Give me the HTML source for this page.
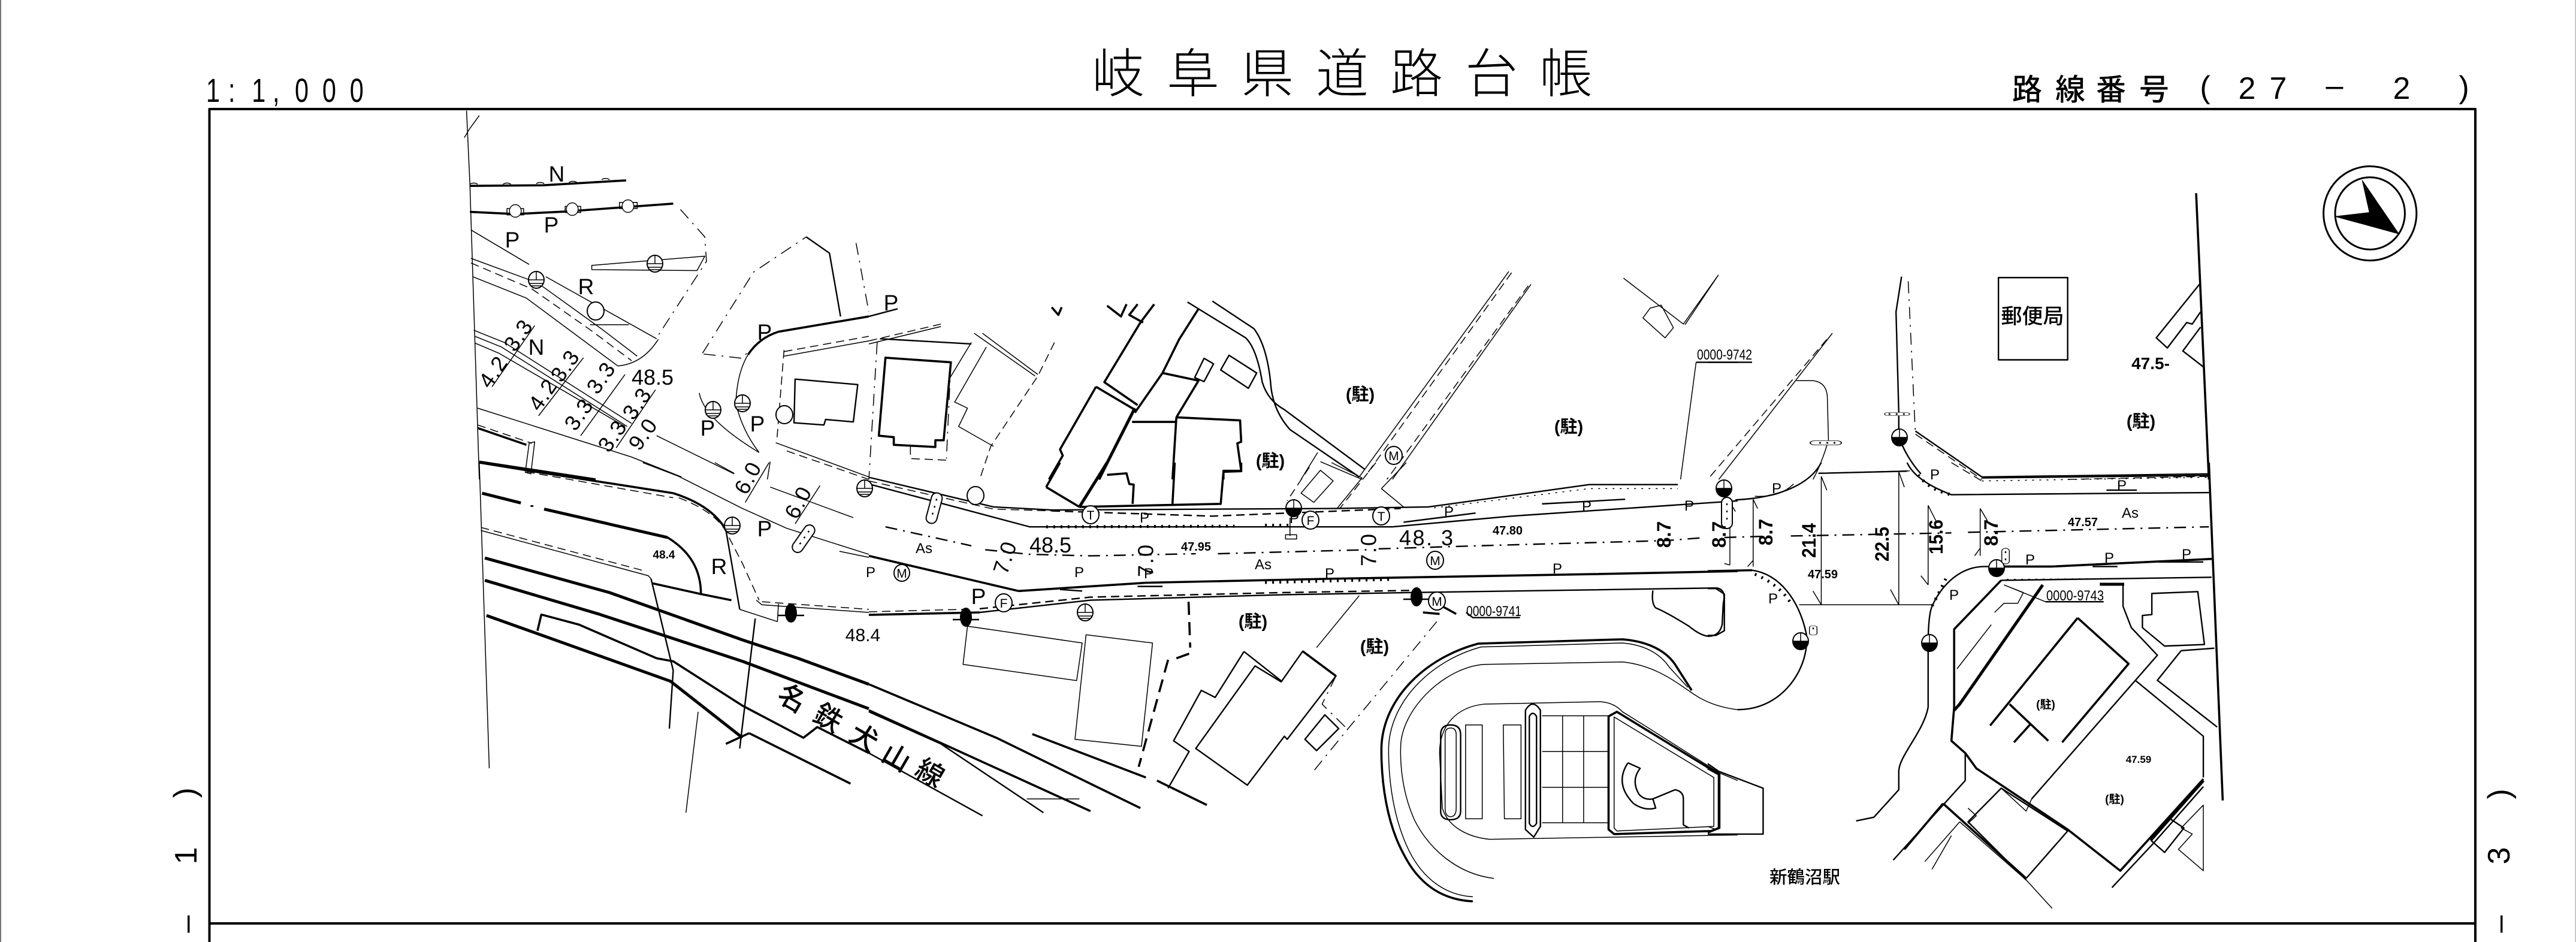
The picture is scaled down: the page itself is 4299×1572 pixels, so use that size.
<!DOCTYPE html>
<html lang="ja"><head><meta charset="utf-8"><title>岐阜県道路台帳</title>
<style>
html,body{margin:0;padding:0;background:#fff}
svg{display:block}
path,ellipse.t{vector-effect:non-scaling-stroke;fill:none;stroke:#000;stroke-linejoin:round}
.a{stroke-width:1.5}.b{stroke-width:2.4}.c{stroke-width:3.6}.d{stroke-width:5}
.da{stroke-dasharray:14 8}.db{stroke-dasharray:20 10 3 10}.dc{stroke-dasharray:3 9}.dd{stroke-dasharray:22 12}
text{font-family:"Liberation Sans","Noto Sans CJK JP",sans-serif;fill:#000;text-anchor:middle}
.p{font-size:24px}.pp{font-size:37px}.n{font-size:36px}.s{font-size:22px;font-weight:bold}.m{font-size:30px}
.k{font-size:29px;font-weight:bold}
.u{font-size:21px}
</style></head><body>
<svg xmlns="http://www.w3.org/2000/svg" width="4299" height="1572" viewBox="0 0 4299 1572">
<defs>
<g id="mh"><ellipse cx="0" cy="0" rx="13" ry="14" fill="#fff" stroke="#000" stroke-width="2"/><path class="a" d="M-13 0H13M0 -14V0"/><path d="M-13 1A13 13 0 0 0 13 1Z" style="fill:#000;stroke:#000"/></g>
<g id="mh2"><ellipse cx="0" cy="0" rx="13" ry="14" fill="#fff" stroke="#000" stroke-width="2"/><path class="a" d="M-13 0H13M0 -14V0M-11 6H11M-8 10H8"/></g>
<g id="bk"><ellipse cx="0" cy="0" rx="10" ry="16" fill="#000"/><path class="b" d="M-22 4H22"/></g>
<g id="cc"><ellipse cx="0" cy="0" rx="14" ry="15" fill="#fff" stroke="#000" stroke-width="2"/></g>
<g id="ov"><rect x="-9" y="-26" width="18" height="52" rx="9" fill="#fff" stroke="#000" stroke-width="2"/><path class="b dc" d="M0 -16V18"/></g>
</defs>
<rect width="4299" height="1572" fill="#fff"/>
<path d="M1 0V1572" style="stroke:#777;stroke-width:2"/>
<path d="M4298 0V1572" style="stroke:#bbb;stroke-width:1.5"/>
<!-- frame -->
<path d="M349.5 1572V182H4131V1572" style="stroke:#000;stroke-width:4"/>
<path d="M349.5 1541H4131" style="stroke:#000;stroke-width:4"/>

<!-- Tile A -->
<g transform="scale(.9247 .5102)">
<path class="a" d="M842 362L848 600L865 1568M865 378L848 420L838 450"/>
<path class="c" d="M848 608L980 606L1130 590"/>
<path class="a" d="M848 603a8 8 0 0 1 14 0M908 603a8 8 0 0 1 14 0M968 601a8 8 0 0 1 14 0M1027 597a8 8 0 0 1 14 0M1086 588a8 8 0 0 1 14 0"/>
<path class="c" d="M848 693L930 700L1020 692L1215 666"/>
<path class="a" d="M915 682H945V703H915ZM1020 675H1048V695H1020ZM1118 662H1150V682H1118Z"/>
<path class="a" d="M850 752L955 865M985 905L1185 1108M850 845L970 925L1085 1075L1150 1165M853 905L950 975L1115 1197Q1160 1190 1188 1110M1065 1062H1135"/>
<path class="a da" d="M850 860L960 945L1070 1085L1140 1180"/>
<path class="a db" d="M1228 685L1272 775L1275 855L1185 1105"/>
<path class="a" d="M1068 868L1272 838L1258 885L1068 882Z"/>
<path class="a db" d="M1270 1158L1340 1172L1350 1150M1268 1155L1360 890L1455 775"/>
<path class="b" d="M1455 775L1497 828L1517 1035"/>
<path class="a db" d="M1545 795L1568 1020"/>
<path class="c" d="M1568 1035L1405 1085Q1370 1105 1350 1160"/>
<path class="a" d="M1350 1160Q1330 1220 1328 1320Q1340 1410 1370 1480M1262 1285Q1270 1370 1370 1480"/>
<path class="b" d="M1435 1240L1548 1258L1540 1380L1490 1372L1487 1390L1433 1383Z"/>
<path class="a da" d="M1415 1145L1402 1440"/>
<path class="a" d="M1415 1165L1568 1115M1400 1448L1568 1560"/>
<path class="a da" d="M1415 1150L1568 1100M1420 1475L1568 1568"/>
<path class="a" d="M855 1080L910 1120L1140 1385M857 1100L905 1135L1132 1395M857 1122L900 1155L1128 1395"/>
<path class="a" d="M965 1065L888 1265M1053 1170L972 1360M1128 1225L1048 1425M1183 1275L1112 1465"/>
<path class="a" d="M862 1335L1140 1495L1230 1560M1185 1425L1325 1550M1390 1510L1385 1568"/>
<path class="a da" d="M862 1390L960 1450"/>
<path class="c" d="M862 1400L950 1455"/>
<path class="a" d="M955 1450L965 1445L958 1550L948 1545Z"/>
<path class="c" d="M865 1510L1075 1568"/>
</g>

<!-- Tile B -->
<g transform="translate(1450 0) scale(.9247 .5102)">
<path class="b" d="M0 1035L52 1010"/>
<path class="a da" d="M0 1115L130 1060"/>
<path class="a" d="M0 1125L130 1068"/>
<path class="b" d="M20 1108L185 1125"/>
<path class="c" d="M30 1170L148 1185L135 1440L120 1440L120 1462L45 1455L45 1430L18 1425Z"/>
<path class="a db" d="M15 1120L0 1568M148 1185L140 1500"/>
<path class="a da" d="M75 1460L75 1500L140 1505"/>
<path class="a" d="M205 1090L305 1225M190 1090L300 1230M212 1135L155 1315L178 1335L162 1395L225 1460M185 1120L145 1240"/>
<path class="a da" d="M335 1120L305 1230L220 1460L200 1568"/>
<path class="c" d="M430 1000L455 1035L465 995M485 995L470 1030L495 1055M330 1005L342 1030L348 1005"/>
<path class="c" d="M515 995L490 1055L425 1250L485 1325M410 1265L478 1338"/>
<path class="c" d="M595 1010L560 1110L530 1220L595 1245L555 1365"/>
<path class="c" d="M410 1265L345 1470L350 1490L325 1568"/>
<path class="d" d="M480 1335L415 1568"/>
<path class="c" d="M530 1220L480 1350"/>
<path class="c" d="M475 1380L555 1380M555 1365L670 1375L672 1445L665 1450L672 1540L640 1540L640 1568M555 1365L548 1568"/>
<path class="b" d="M575 988L680 1105Q700 1140 710 1250Q720 1310 750 1340L895 1535M620 985L695 1075Q718 1130 725 1250Q728 1340 760 1405L885 1560"/>
<path class="b" d="M605 1172L622 1190L605 1248L588 1235ZM650 1162L700 1220L685 1270L635 1210Z"/>
<path class="a" d="M1155 888L885 1560M1195 930L945 1568"/>
<path class="a da" d="M1160 892L895 1560M1190 935L935 1568"/>
<path class="a" d="M1362 910L1470 1060L1533 900L1473 1062M1430 998L1452 1072L1437 1105L1397 1040L1410 1008Z"/>
<path class="b" d="M1493 1185L1568 1185"/>
<path class="a" d="M1493 1185L1465 1568"/>
<path class="a" d="M810 1480L780 1568M815 1510L890 1568"/>
</g>

<!-- Tile C -->
<g transform="translate(2850 0) scale(.9241 .5102)">
<path class="b" d="M0 1185H80"/>
<path class="c" d="M882 632L905 1568"/>
<path class="b" d="M888 930L810 1105L830 1138L865 1055L875 1060L890 1020M890 1070L858 1148L895 1200"/>
<path class="b" d="M525 908H650V1177H525Z"/>
<path class="b" d="M350 905L340 1020L345 1350L345 1430Q360 1500 385 1550"/>
<path class="a db" d="M362 920L375 1420"/>
<path class="a da" d="M375 1420L495 1568"/>
<path class="b" d="M375 1410L495 1560L905 1550"/>
<path class="a" d="M225 1090L20 1568"/>
<path class="a da" d="M215 1110L0 1568"/>
<path class="a" d="M160 1245H190Q215 1250 216 1300L218 1440Q205 1520 190 1568M200 1548L365 1540"/>
<path class="a da" d="M650 1568L905 1558"/>
<ellipse class="t" cx="1196" cy="698" rx="84" ry="154" style="stroke-width:3"/>
<ellipse class="t" cx="1196" cy="698" rx="63" ry="118" style="stroke-width:3"/>
<path d="M1182 590L1195 695L1133 708L1248 765Z" style="fill:#000;stroke:#000;stroke-width:1"/>
</g>

<!-- Tile D -->
<g transform="translate(0 772) scale(.9247 .5102)">
<path class="a" d="M865 0L883 1000"/>
<path class="c" d="M865 0L950 25L1215 100"/>
<path class="a da" d="M950 30L1215 115"/>
<path class="c" d="M1215 100Q1285 140 1310 220"/>
<path class="b" d="M1310 220L1335 480"/>
<path class="a da" d="M1225 115Q1290 160 1310 225L1340 330L1370 450"/>
<path class="d" d="M870 100L940 132M982 152L1205 245"/>
<circle cx="960" cy="142" r="3"/>
<path class="c" d="M1205 245C1245 290 1265 350 1265 430"/>
<path class="a" d="M868 222L1170 370L1175 380"/>
<path class="a da" d="M868 212L1165 355"/>
<path class="b" d="M1175 380L1215 680L1208 870"/>
<path class="c" d="M1178 395L1265 430L1320 450"/>
<path class="d" d="M875 312L1100 425L1340 580L1440 640L1568 725"/>
<path class="d" d="M875 385L1080 495L1340 650L1568 805"/>
<path class="d" d="M878 500L1210 715L1340 900"/>
<path class="c" d="M1352 885L1535 1050M1310 920L1352 885"/>
<path class="c" d="M970 550L977 497L1045 530L1185 640L1215 650L1340 795L1450 900L1475 865L1568 950"/>
<path class="b" d="M1363 510L1335 935"/>
<path class="a" d="M1260 815L1238 1145"/>
<path class="a" d="M1335 480L1403 520L1405 462M1365 450L1375 465L1568 490"/>
<path class="a da" d="M1375 455L1568 480"/>
<path class="a" d="M1160 0L1225 45L1340 150L1420 215L1568 300M1290 0L1325 35M1390 80L1540 180"/>
<path class="a" d="M1388 0L1345 130M1480 75L1435 200"/>
<path class="a" d="M1515 290L1568 310"/>
</g>

<!-- Tile E -->
<g transform="translate(1450 772) scale(.9247 .5102)">
<path class="b" d="M0 48L225 145L330 155L840 150L1010 145L1300 72L1460 72"/>
<path class="a da" d="M0 60L225 152L330 158"/>
<path class="b da" d="M330 158L620 175L960 150"/>
<path class="a dc" d="M1020 148L1300 85L1460 85"/>
<path class="b" d="M0 70L290 210L945 210L1160 175L1568 125"/>
<path class="d dc" d="M320 210L660 208M715 205L760 205"/>
<path class="b db" d="M30 210L185 272M210 285L290 300L400 305L590 298M630 298L900 285M920 282L1100 272L1440 255L1510 245"/>
<path class="c" d="M0 305L270 420M270 420L500 393L830 380L1300 365L1568 355"/>
<path class="d dc" d="M715 392L940 382"/>
<path class="b" d="M345 415L385 420M485 405H530M1215 135L1365 120M965 195L1095 165"/>
<path class="c" d="M0 498L200 490"/>
<path class="b" d="M200 490L400 450L750 432L980 425L1530 410"/>
<path class="a da" d="M0 488L170 480"/>
<path class="b da" d="M200 478L400 440L750 425L980 418"/>
<path class="b" d="M1530 410Q1548 415 1542 460L1540 530Q1535 568 1515 568Q1500 565 1480 535Q1440 490 1420 475Q1412 460 1415 418"/>
<!-- buildings above road -->
<path class="c" d="M320 80L345 0M320 80L380 145"/>
<path class="d" d="M380 145L430 0"/>
<path class="c" d="M430 40L465 35L470 70L478 72L476 135M548 135L552 0M380 145L635 135L640 30L672 28L672 0"/>
<path class="a" d="M780 100L815 25L838 60L803 130ZM925 85L965 145M925 85L970 0"/>
<path class="a da" d="M795 15L755 125M915 0L850 150"/>
<path class="a" d="M835 0L890 50L845 150"/>
<path class="a" d="M760 180V240"/>
<path class="a" d="M752 236H772V250H752Z"/>
<!-- lots below road -->
<path class="a" d="M178 535L385 590L375 713L170 660Z"/>
<path class="a" d="M392 563L512 590L492 928L372 905Z"/>
<path class="c dd" d="M577 455L580 605M540 645L487 995"/>
<path class="c" d="M555 640L578 625"/>
<path class="a" d="M885 435L808 605"/>
<path class="b" d="M677 618L745 715L783 617L843 698L755 905L750 895L683 1055L590 935L697 665L745 718"/>
<path class="b" d="M677 618L625 768L600 745L550 910L578 945L540 1065"/>
<path class="c" d="M783 617L843 698"/>
<path class="a db" d="M1025 520L865 870L800 1015M843 698L818 790L860 865"/>
<path class="b" d="M823 825L848 870L808 942L787 905Z"/>
<path class="c" d="M0 725L230 900L490 1130M0 810L170 950L400 1140"/>
<path class="b" d="M0 815L130 920L315 1145M0 950L205 1155"/>
<path class="a" d="M285 1100H380"/>
<path class="c" d="M295 888L500 1030M520 1040L610 1120"/>
<!-- station -->
<path class="c" d="M1090 1435C1030 1430 990 1370 965 1280C935 1180 925 1050 925 940C925 780 1000 640 1100 592L1360 578C1410 585 1440 620 1455 660L1485 745"/>
<path class="a" d="M1090 1420C1040 1415 1000 1360 975 1270C948 1170 938 1050 938 940C938 790 1010 650 1105 603L1360 590C1405 597 1430 630 1445 670L1478 735"/>
<path class="a" d="M1128 1360C1060 1345 1010 1260 985 1170C965 1090 958 1000 960 920C965 800 1040 670 1110 660L1360 652C1430 665 1470 740 1500 770Q1530 800 1568 808"/>
<path class="a" d="M1110 790L1320 782Q1345 785 1360 815L1400 860L1535 1015L1568 1040M1120 1232L1568 1218M1110 790C1060 800 1030 860 1030 950L1035 1130C1045 1190 1080 1225 1120 1232"/>
<path class="b" d="M1032 1140L1032 890Q1032 858 1050 858Q1068 858 1068 890V1140Q1068 1168 1050 1168Q1032 1168 1032 1140Z"/>
<path class="a" d="M1040 1130L1040 890Q1040 868 1050 868Q1060 868 1060 890V1130Q1060 1158 1050 1158Q1040 1158 1040 1130Z"/>
<path class="a" d="M1077 858H1107V1165H1077ZM1145 858H1177V1165H1147Z"/>
<path class="b" d="M1185 810Q1198 770 1212 810V1190L1200 1225L1185 1200Z"/>
<path class="b" d="M1192 830Q1198 810 1205 830V1180Q1198 1200 1192 1180Z"/>
<path class="a" d="M1215 828H1335M1215 945H1335M1215 1062H1335M1215 1178H1335M1252 828V1178M1290 828V1178"/>
<path class="c" d="M1335 830L1350 815L1535 1020L1535 1195L1520 1205L1345 1215L1335 1200Z"/>
<path class="a" d="M1345 832L1525 1030L1525 1190L1350 1205L1345 1195Z"/>
<path class="b" d="M1370 982L1392 1000Q1375 1040 1390 1085Q1400 1105 1415 1100L1455 1070Q1470 1075 1470 1100L1470 1185L1480 1195M1370 982Q1345 1050 1380 1115Q1400 1140 1420 1130L1415 1100"/>
<path class="c" d="M1000 490L1030 495M1030 465L1060 495"/>
<path class="b" d="M1078 490L1090 507H1175"/>
</g>

<!-- Tile F -->
<g transform="translate(2850 772) scale(.9241 .5102)">
<path class="c" d="M905 0L930 1105"/>
<path class="b" d="M360 0Q375 60 440 105L905 98M495 50L905 42"/>
<path class="a dc" d="M495 60L905 48"/>
<path class="a da" d="M440 0L495 60"/>
<path class="b" d="M200 35L360 28M205 0C185 70 130 115 50 122"/>
<path class="a" d="M85 110Q130 115 155 70"/>
<path class="b db" d="M30 245L120 240M150 240L440 230M470 228L905 210"/>
<path class="a" d="M205 45V465M345 30V465M165 465H405M190 420L205 465M330 415L345 465M205 45L215 90M345 30L355 80"/>
<path class="a" d="M398 140V400M385 370L398 400M398 140L412 190M492 150V305M492 150L505 190M482 305L492 280M82 120V340M40 120V335M30 330L40 335M72 340L82 320M82 120L90 150M40 130L50 160"/>
<path class="c" d="M0 355L80 352"/>
<path class="b" d="M80 352C130 365 165 450 178 560C185 660 140 808 54 808"/>
<path class="d dc" d="M85 365Q130 400 150 460M430 380L405 470M380 40Q400 90 440 105"/>
<path class="b" d="M520 340H500C460 340 425 390 405 470Q398 500 398 600L398 800C390 880 345 960 345 1010L345 1070L300 1160L268 1172"/>
<path class="c" d="M520 340L620 340L760 328L910 315"/>
<path class="b" d="M530 385L910 375"/>
<path class="a dc" d="M540 382L820 378"/>
<path class="d" d="M708 398H752"/>
<path class="c" d="M530 385L445 545L445 800L440 910L465 950L485 1000L650 1200L745 1335L895 1035"/>
<path class="d" d="M605 400L455 790L445 810"/>
<path class="a" d="M512 530L450 675"/>
<path class="c" d="M668 508L760 658L640 915"/>
<path class="c" d="M668 508L510 860M545 790L615 910M583 855L553 915"/>
<path class="b" d="M750 400L750 470L765 540L812 630L585 1100"/>
<path class="b" d="M855 615L915 607M855 615L812 712L920 865M772 712L895 895L895 1030"/>
<path class="b" d="M802 428L885 422L897 595L825 600L785 540L785 500L802 497Z"/>
<path class="b" d="M610 455H715"/>
<path class="a" d="M610 455L535 400M535 400L570 425L560 460H535L518 490"/>
<path class="b" d="M465 950L465 1040L335 1300"/>
<path class="c" d="M425 1115L355 1265"/>
<path class="c" d="M425 1115L575 1360"/>
<path class="b" d="M575 1360L650 1205L530 1065L470 1175L575 1365"/>
<path class="a" d="M470 1130L485 1155L470 1180M455 1175L392 1305M455 1175L575 1365M405 1330L440 1220M575 1365L622 1458M585 1100L575 1140L530 1065"/>
<path class="d" d="M895 1040L800 1235"/>
<path class="b" d="M895 1060L805 1245L730 1390M800 1235L825 1275L860 1195L835 1165"/>
<path class="a" d="M895 1120L855 1195L875 1215L850 1265L895 1335V1120"/>
<path class="b" d="M0 985L20 1010L100 1065V1215H0"/>
<path class="c" d="M0 1000L20 1020V1195L0 1210"/>
<path class="a" d="M0 1190L15 1200"/>
<path class="b" d="M0 412H15L30 430V550L15 565H0"/>
<path class="b" d="M720 90H775M815 325H895M695 340H740"/>
</g>

<!-- symbols -->
<use href="#mh2" x="895" y="467"/><use href="#mh2" x="1093" y="440"/><use href="#mh2" x="1190" y="684"/><use href="#mh2" x="1239" y="673"/>
<use href="#mh2" x="1222" y="877"/><use href="#mh2" x="1443" y="815"/><use href="#mh2" x="1811" y="1022"/>
<use href="#mh" x="2159" y="848"/><use href="#mh" x="2877" y="815"/><use href="#mh" x="3332" y="948"/><use href="#mh" x="3005" y="1070"/><use href="#mh" x="3220" y="1073"/><use href="#mh" x="3170" y="730"/>
<use href="#bk" x="1612" y="1030"/><use href="#bk" x="2364" y="996"/><use href="#bk" x="1320" y="1023"/>
<use href="#cc" x="994" y="519"/><use href="#cc" x="1309" y="692"/><use href="#cc" x="1628" y="827"/>
<use href="#cc" transform="translate(860 352) scale(.7)"/><use href="#cc" transform="translate(955 349) scale(.7)"/><use href="#cc" transform="translate(1048 344) scale(.7)"/>
<use href="#ov" transform="translate(1559 848) rotate(15)"/><use href="#ov" transform="translate(1341 899) rotate(35)"/>
<use href="#ov" transform="translate(3047 739) rotate(90) scale(.4 1)"/><use href="#ov" transform="translate(3166 691) rotate(90) scale(.3 .8)"/><use href="#ov" x="2882" y="856"/><use href="#ov" transform="translate(3026 1052) scale(.7 .3)"/><use href="#ov" transform="translate(3347 928) scale(.7 .5)"/>
<g style="fill:#fff;stroke:#000;stroke-width:2">
<ellipse cx="2326" cy="760" rx="14" ry="15" fill="#fff"/><ellipse cx="2395" cy="935" rx="14" ry="15" fill="#fff"/><ellipse cx="2187" cy="868" rx="14" ry="15" fill="#fff"/><ellipse cx="2305" cy="861" rx="14" ry="15" fill="#fff"/><ellipse cx="1675" cy="1006" rx="14" ry="15" fill="#fff"/><ellipse cx="1505" cy="956" rx="13" ry="14" fill="#fff"/><ellipse cx="1820" cy="859" rx="14" ry="15" fill="#fff"/><ellipse cx="2398" cy="1003" rx="14" ry="15" fill="#fff"/>
</g>

<!-- titles -->
<text style="font-size:88px;font-weight:300;text-anchor:start" y="154" x="1822 1947 2071 2196 2320 2445 2569">岐阜県道路台帳</text>
<g transform="translate(344 170) scale(.74 1)" style="font-size:56px"><text style="text-anchor:start" x="0 50 103 150 200 262 324">1:1,000</text></g>
<text style="font-size:50px;font-weight:500;text-anchor:start" y="167" x="3358 3430 3498 3570">路線番号</text>
<g style="font-size:52px">
<text x="3680" y="163">(</text><text x="3750" y="165">2</text><text x="3802" y="165">7</text><text x="3896" y="160">–</text><text x="4008" y="165">2</text><text x="4112" y="163">)</text>
<text transform="translate(326 1323) rotate(-90)">)</text><text transform="translate(328 1428) rotate(-90)">1</text><text transform="translate(328 1542) rotate(-90)">–</text>
<text transform="translate(4188 1325) rotate(-90)">)</text><text transform="translate(4188 1428) rotate(-90)">3</text><text transform="translate(4188 1542) rotate(-90)">–</text>
</g>

<!-- labels -->
<g class="pp">
<text x="929" y="303">N</text><text x="920" y="388">P</text><text x="855" y="413">P</text><text x="978" y="491">R</text><text x="895" y="592">N</text>
<text x="1276" y="567">P</text><text x="1181" y="727">P</text><text x="1264" y="720">P</text><text x="1487" y="518">P</text><text x="1200" y="958">R</text><text x="1276" y="895">P</text><text x="1633" y="1008">P</text>
</g>
<g class="n">
<text x="1089" y="642">48.5</text><text x="1753" y="922">48.5</text>
<text x="1440" y="1070" style="font-size:30px">48.4</text>
<text x="2380" y="910" textLength="90">48. 3</text>
<g style="letter-spacing:2px">
<text transform="translate(823 620) rotate(-55)" dy=".35em">4.2</text>
<text transform="translate(865 559) rotate(-55)" dy=".35em">3.3</text>
<text transform="translate(906 658) rotate(-55)" dy=".35em">4.2</text>
<text transform="translate(943 610) rotate(-55)" dy=".35em">3.3</text>
<text transform="translate(1003 630) rotate(-55)" dy=".35em">3.3</text>
<text transform="translate(966 691) rotate(-55)" dy=".35em">3.3</text>
<text transform="translate(1063 673) rotate(-55)" dy=".35em">3.3</text>
<text transform="translate(1022 727) rotate(-55)" dy=".35em">3.3</text>
<text transform="translate(1073 724) rotate(-55)" dy=".35em">9.0</text>
<text transform="translate(1248 797) rotate(-62)" dy=".35em">6.0</text>
<text transform="translate(1332 838) rotate(-62)" dy=".35em">6.0</text>
<text transform="translate(1677 930) rotate(-72)" dy=".35em">7.0</text>
<text transform="translate(1912 935) rotate(-90)" dy=".35em">7.0</text>
<text transform="translate(2284 917) rotate(-90)" dy=".35em">7.0</text>
</g>
<g style="font-size:32px;font-weight:bold">
<text transform="translate(2777 892) rotate(-90)" dy=".35em">8.7</text>
<text transform="translate(2869 892) rotate(-90)" dy=".35em">8.7</text>
<text transform="translate(2947 888) rotate(-90)" dy=".35em">8.7</text>
<text transform="translate(3019 902) rotate(-90)" dy=".35em" textLength="58" lengthAdjust="spacingAndGlyphs">21.4</text>
<text transform="translate(3141 908) rotate(-90)" dy=".35em" textLength="58" lengthAdjust="spacingAndGlyphs">22.5</text>
<text transform="translate(3231 896) rotate(-90)" dy=".35em" textLength="58" lengthAdjust="spacingAndGlyphs">15.6</text>
<text transform="translate(3323 889) rotate(-90)" dy=".35em">8.7</text>
</g>
</g>
<g class="p">
<text x="1453" y="963">P</text><text x="1801" y="963">P</text><text x="1917" y="965">P</text><text x="1910" y="872">P</text><text x="2160" y="873">P</text><text x="2418" y="862">P</text><text x="2648" y="853">P</text><text x="2819" y="852">P</text><text x="2219" y="965">P</text><text x="2599" y="957">P</text>
<text x="2965" y="823">P</text><text x="3229" y="800">P</text><text x="3541" y="818">P</text><text x="3388" y="942">P</text><text x="3520" y="939">P</text><text x="3649" y="933">P</text><text x="3261" y="1001">P</text><text x="2959" y="1007">P</text>
<text x="1542" y="923">As</text><text x="2108" y="950">As</text><text x="3555" y="864">As</text>
</g>
<g class="u">
<text x="2326" y="768">M</text><text x="2395" y="943">M</text><text x="1505" y="964">M</text><text x="2398" y="1011">M</text><text x="2187" y="876">F</text><text x="1675" y="1014">F</text><text x="2305" y="869">T</text><text x="1820" y="867">T</text>
</g>
<g class="s" style="font-size:20px">
<text x="1996" y="919">47.95</text><text x="2516" y="892">47.80</text><text x="3042" y="965">47.59</text><text x="3476" y="878">47.57</text><text x="3569" y="1273" style="font-size:17px">47.59</text>
<text x="1108" y="932" style="font-size:19px">48.4</text>
</g>
<text x="3589" y="616" class="s" style="font-size:28px">47.5-</text>
<g style="font-size:24px">
<text x="2878" y="600" textLength="92" lengthAdjust="spacingAndGlyphs">0000-9742</text>
<text x="2493" y="1028" textLength="92" lengthAdjust="spacingAndGlyphs">0000-9741</text>
<text x="3463" y="1002" textLength="96" lengthAdjust="spacingAndGlyphs">0000-9743</text>
</g>
<text x="3392" y="540" style="font-size:35px;font-weight:500">郵便局</text>
<text x="3012" y="1474" style="font-size:29.5px;font-weight:500">新鶴沼駅</text>
<g class="k">
<text x="2270" y="668">(駐)</text><text x="2618" y="722">(駐)</text><text x="2120" y="779">(駐)</text><text x="3573" y="713">(駐)</text><text x="2091" y="1047">(駐)</text><text x="2294" y="1089">(駐)</text>
<text x="3414" y="1182" style="font-size:19px">(駐)</text><text x="3529" y="1340" style="font-size:19px">(駐)</text>
</g>
<g style="font-size:46px;font-weight:500">
<text transform="translate(1322 1165) rotate(30)" dy=".35em">名</text>
<text transform="translate(1382 1198) rotate(30)" dy=".35em">鉄</text>
<text transform="translate(1442 1231) rotate(30)" dy=".35em">犬</text>
<text transform="translate(1496 1264) rotate(30)" dy=".35em">山</text>
<text transform="translate(1552 1290) rotate(30)" dy=".35em">線</text>
</g>
</svg>
</body></html>
